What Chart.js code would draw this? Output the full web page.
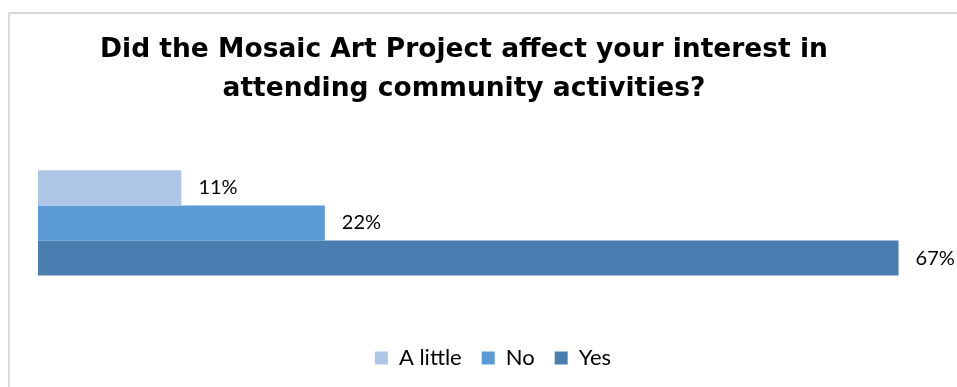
<!DOCTYPE html>
<html>
<head>
<meta charset="utf-8">
<script src="https://cdn.jsdelivr.net/npm/chart.js@4"></script>
<style>
  html, body { margin: 0; padding: 0; background: #fff; }
  #wrap { position: relative; width: 957px; height: 387px; overflow: hidden; }
  #frame {
    position: absolute; left: 8px; top: 12px; width: 1000px; height: 500px;
    border: 2px solid #d9d9d9; box-sizing: border-box;
  }
  /* canvas sits 20px left of the page so the title centres a bit left of the legend */
  canvas { position: absolute; left: -20px; top: 0; }
</style>
</head>
<body>
<div id="wrap">
  <div id="frame"></div>
  <canvas id="chart" width="977" height="387"></canvas>
</div>
<script>
const titleLines = [
  "Did the Mosaic Art Project affect your interest in",
  "attending community activities?",
];
const categories = [""];
const seriesNames = ["A little", "No", "Yes"];
const seriesValues = [11.11, 22.22, 66.67]; // percent of responses
const seriesColors = ["#adc6e6", "#5b9bd5", "#4a7eb0"];

const FONT = "Lato, 'Gill Sans', 'Open Sans', sans-serif";

// prints "NN%" just right of each bar end
const valueLabels = {
  id: "valueLabels",
  afterDatasetsDraw(chart) {
    const { ctx } = chart;
    ctx.save();
    ctx.font = `20px ${FONT}`;
    ctx.fillStyle = "#000";
    ctx.textBaseline = "middle";
    ctx.textAlign = "left";
    chart.data.datasets.forEach((ds, i) => {
      chart.getDatasetMeta(i).data.forEach((bar, j) => {
        ctx.fillText(`${Math.round(ds.data[j])}%`, bar.x + 17, bar.y);
      });
    });
    ctx.restore();
  },
};

new Chart(document.getElementById("chart"), {
  type: "bar",
  data: {
    labels: categories,
    datasets: seriesNames.map((name, i) => ({
      label: name,
      data: [seriesValues[i]],
      backgroundColor: seriesColors[i],
      borderWidth: 0,
    })),
  },
  options: {
    indexAxis: "y",
    responsive: false,
    animation: false,
    layout: { padding: { left: 0, right: 9, top: 0, bottom: 8 } },
    datasets: {
      bar: { categoryPercentage: 0.506, barPercentage: 1 },
    },
    scales: {
      x: { display: false, min: 0, max: 70.5 },
      y: {
        grid: { display: false },
        border: { display: false },
        ticks: { display: false },
        afterFit(scale) {
          scale.width = 58;
        },
      },
    },
    plugins: {
      tooltip: { enabled: false },
      title: {
        display: true,
        text: titleLines,
        color: "#000",
        font: { family: "'DejaVu Sans', 'Open Sans', sans-serif", size: 26.5, weight: "bold", lineHeight: 1.47 },
        padding: { top: 31, bottom: 10 },
      },
      legend: {
        position: "bottom",
        fullSize: false,
        labels: {
          color: "#000",
          boxWidth: 13,
          boxHeight: 13,
          padding: 20,
          font: { family: FONT, size: 22 },
        },
      },
    },
  },
  plugins: [valueLabels],
});
</script>
</body>
</html>
